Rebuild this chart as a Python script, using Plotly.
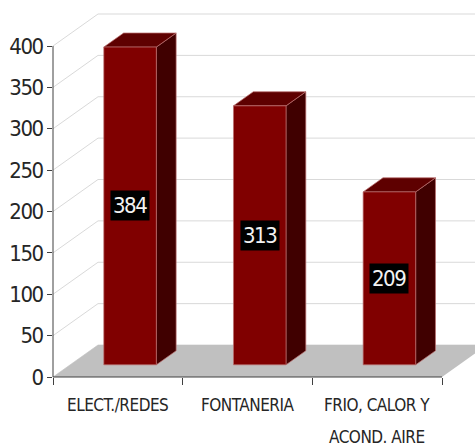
import plotly.graph_objects as go

# ---- data ----
categories = ["ELECT./REDES", "FONTANERIA", "FRIO, CALOR Y<br>ACOND. AIRE"]
values = [384, 313, 209]
y_ticks = [0, 50, 100, 150, 200, 250, 300, 350, 400]

# ---- layout geometry ----
W, H = 475, 447
ML, MR, MT, MB = 53, 0, 10, 70
plot_w = W - ML - MR
plot_h = H - MT - MB
px_per_x = 129.67
px_per_y = 0.8275
X0 = -0.5
X1 = X0 + plot_w / px_per_x
Y1 = plot_h / px_per_y
DX = 45 / px_per_x   # depth offset (x units)
DY = 32 / px_per_y   # depth offset (y units)
D_FRONT = 0.38
D_BACK = 0.82
BAR_LEFT = -0.24
BAR_W = 0.405

FONT = "Liberation Sans Narrow, Arial Narrow, DejaVu Sans Condensed, sans-serif"
TXT = "#262626"
AX = "#404040"


def tight(s, sp):
    return f"<span style='letter-spacing:{sp}px'>{s}</span>"


def proj(x, y, d):
    return x + d * DX, y + d * DY


fig = go.Figure()

# back wall gridlines
gx, gy = [], []
for t in y_ticks:
    a = proj(X0, t, 0)
    b = proj(X0, t, 1)
    gx += [a[0], b[0], X1, None]
    gy += [a[1], b[1], b[1], None]
fig.add_trace(go.Scatter(x=gx, y=gy, mode="lines", line=dict(color="#d9d9d9", width=1),
                         hoverinfo="skip", showlegend=False))

# floor
n = len(categories)
fl = [proj(X0, 0, 0), proj(X0 + n, 0, 0), proj(X0 + n, 0, 1), proj(X0, 0, 1)]
fig.add_trace(go.Scatter(x=[p[0] for p in fl] + [fl[0][0]], y=[p[1] for p in fl] + [fl[0][1]],
                         fill="toself", fillcolor="#c0c0c0", mode="lines",
                         line=dict(width=0, color="#c0c0c0"), hoverinfo="skip", showlegend=False))

edge = dict(color="rgba(185,110,110,0.9)", width=0.8)


def poly(pts, color):
    fig.add_trace(go.Scatter(x=[p[0] for p in pts] + [pts[0][0]], y=[p[1] for p in pts] + [pts[0][1]],
                             fill="toself", fillcolor=color, mode="lines", line=edge,
                             hoverinfo="skip", showlegend=False))


annotations = []
for i, (cat, v) in enumerate(zip(categories, values)):
    xl = i + BAR_LEFT
    xr = xl + BAR_W
    # side face
    poly([proj(xr, 0, D_FRONT), proj(xr, 0, D_BACK), proj(xr, v, D_BACK), proj(xr, v, D_FRONT)], "#400000")
    # top face
    poly([proj(xl, v, D_FRONT), proj(xr, v, D_FRONT), proj(xr, v, D_BACK), proj(xl, v, D_BACK)], "#5e0000")
    # front face
    poly([proj(xl, 0, D_FRONT), proj(xr, 0, D_FRONT), proj(xr, v, D_FRONT), proj(xl, v, D_FRONT)], "#800000")
    # value label
    cx, _ = proj((xl + xr) / 2, 0, D_FRONT)
    cy = v / 2 + D_FRONT * DY
    annotations.append(dict(x=cx, y=cy, xref="x", yref="y", text=tight(v, -1.5), showarrow=False,
                            bgcolor="#000000", borderpad=2,
                            font=dict(family=FONT, size=22, color="#f2f2f2")))
    # category label lines
    for j, line in enumerate(cat.split("<br>")):
        pix = 405 + 32 * j
        annotations.append(dict(x=i, y=-(pix - (H - MB)) / plot_h, xref="x", yref="paper",
                                text=tight(line, -0.5), showarrow=False, yanchor="middle",
                                font=dict(family=FONT, size=17, color=TXT)))

fig.update_layout(
    width=W, height=H,
    margin=dict(l=ML, r=MR, t=MT, b=MB),
    plot_bgcolor="white", paper_bgcolor="white",
    showlegend=False,
    annotations=annotations,
    xaxis=dict(range=[X0, X1], showgrid=False, zeroline=False, showticklabels=False,
               tickvals=[X0 + k for k in range(n + 1)], ticks="outside", ticklen=7,
               tickcolor=AX, tickwidth=1, showline=False, fixedrange=True),
    yaxis=dict(range=[0, Y1], showgrid=False, zeroline=False, tickvals=y_ticks,
               ticktext=[tight(t, -1.5) for t in y_ticks],
               ticks="outside", ticklen=5, tickcolor=AX, tickwidth=1, showline=False,
               tickfont=dict(family=FONT, size=22, color=TXT), fixedrange=True),
    shapes=[
        dict(type="line", xref="paper", yref="y", x0=0, x1=0, y0=0, y1=y_ticks[-1],
             line=dict(color=AX, width=1)),
        dict(type="line", xref="x", yref="paper", x0=X0, x1=X0 + n, y0=0, y1=0,
             line=dict(color=AX, width=1)),
    ],
)

fig.write_html("out.html", config={"displayModeBar": False},
               post_script="document.body.style.margin='0px';document.body.style.overflow='hidden';")
